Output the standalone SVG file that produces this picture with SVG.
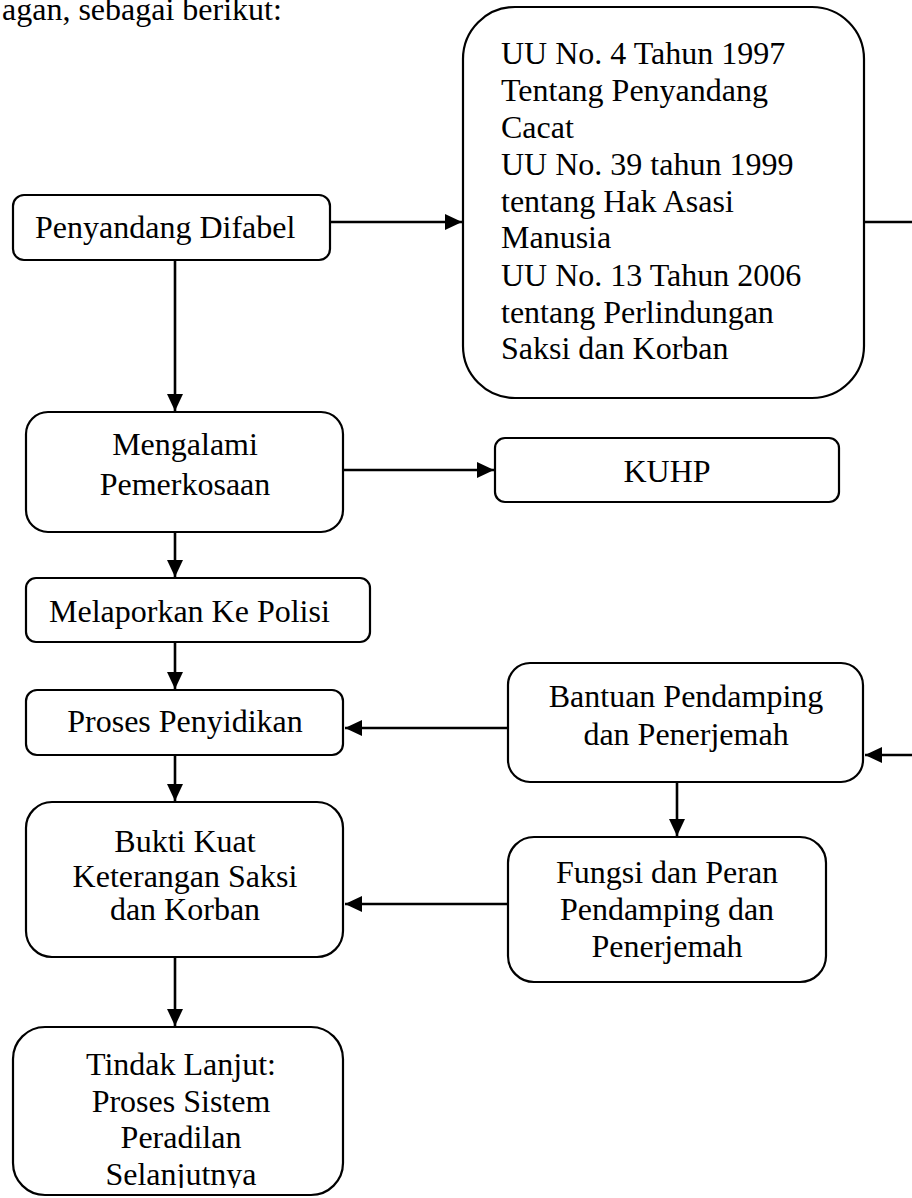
<svg xmlns="http://www.w3.org/2000/svg" width="912" height="1198" viewBox="0 0 912 1198">
<style>
.box{fill:#fff;stroke:#000;stroke-width:2.2}
.t{font-family:"Liberation Serif","Times New Roman",serif;font-size:32px;fill:#000}
.c{text-anchor:middle}
.ln{fill:none;stroke:#000;stroke-width:2.6}
</style>
<defs>
<marker id="ah" markerUnits="userSpaceOnUse" markerWidth="18" markerHeight="16" refX="17" refY="8" orient="auto">
<path d="M0,0 L17,8 L0,16 z" fill="#000"/>
</marker>
<clipPath id="clipT"><rect x="0" y="1020" width="400" height="168"/></clipPath>
</defs>
<rect width="912" height="1198" fill="#fff"/>
<text class="t" x="2" y="20">agan, sebagai berikut:</text>

<g id="connectors">
<path class="ln" d="M330,222 H462" marker-end="url(#ah)"/>
<path class="ln" d="M175,260 V411" marker-end="url(#ah)"/>
<path class="ln" d="M343,470 H494" marker-end="url(#ah)"/>
<path class="ln" d="M175,532 V577" marker-end="url(#ah)"/>
<path class="ln" d="M175,642 V689" marker-end="url(#ah)"/>
<path class="ln" d="M508,728 H345" marker-end="url(#ah)"/>
<path class="ln" d="M175,755 V801" marker-end="url(#ah)"/>
<path class="ln" d="M864,222 H916 V755 H865" marker-end="url(#ah)"/>
<path class="ln" d="M677,782 V836" marker-end="url(#ah)"/>
<path class="ln" d="M508,904 H345" marker-end="url(#ah)"/>
<path class="ln" d="M175,957 V1026" marker-end="url(#ah)"/>
</g>

<g id="penyandang">
<rect class="box" x="13" y="195" width="317" height="65" rx="11"/>
<text class="t" x="35" y="238">Penyandang Difabel</text>
</g>

<g id="uu">
<rect class="box" x="463" y="7" width="401" height="391" rx="52"/>
<text class="t" x="501" y="64">UU No. 4 Tahun 1997</text>
<text class="t" x="501" y="101">Tentang Penyandang</text>
<text class="t" x="501" y="138">Cacat</text>
<text class="t" x="501" y="175">UU No. 39 tahun 1999</text>
<text class="t" x="501" y="212">tentang Hak Asasi</text>
<text class="t" x="501" y="248">Manusia</text>
<text class="t" x="501" y="286">UU No. 13 Tahun 2006</text>
<text class="t" x="501" y="323">tentang Perlindungan</text>
<text class="t" x="501" y="359">Saksi dan Korban</text>
</g>

<g id="mengalami">
<rect class="box" x="26" y="412" width="317" height="120" rx="22"/>
<text class="t c" x="185" y="455">Mengalami</text>
<text class="t c" x="185" y="495">Pemerkosaan</text>
</g>

<g id="kuhp">
<rect class="box" x="495" y="438" width="344" height="64" rx="10"/>
<text class="t c" x="667" y="482">KUHP</text>
</g>

<g id="melaporkan">
<rect class="box" x="26" y="578" width="344" height="64" rx="10"/>
<text class="t" x="49" y="622">Melaporkan Ke Polisi</text>
</g>

<g id="proses">
<rect class="box" x="26" y="690" width="317" height="65" rx="11"/>
<text class="t c" x="185" y="732">Proses Penyidikan</text>
</g>

<g id="bantuan">
<rect class="box" x="508" y="663" width="355" height="119" rx="22"/>
<text class="t c" x="686" y="707">Bantuan Pendamping</text>
<text class="t c" x="686" y="745">dan Penerjemah</text>
</g>

<g id="bukti">
<rect class="box" x="26" y="802" width="317" height="155" rx="26"/>
<text class="t c" x="185" y="852">Bukti Kuat</text>
<text class="t c" x="185" y="887">Keterangan Saksi</text>
<text class="t c" x="185" y="920">dan Korban</text>
</g>

<g id="fungsi">
<rect class="box" x="508" y="837" width="318" height="145" rx="26"/>
<text class="t c" x="667" y="883">Fungsi dan Peran</text>
<text class="t c" x="667" y="920">Pendamping dan</text>
<text class="t c" x="667" y="957">Penerjemah</text>
</g>

<g id="tindak">
<rect class="box" x="13" y="1027" width="330" height="168" rx="32"/>
<text class="t c" x="181" y="1075">Tindak Lanjut:</text>
<text class="t c" x="181" y="1112">Proses Sistem</text>
<text class="t c" x="181" y="1148">Peradilan</text>
<text class="t c" x="181" y="1185" clip-path="url(#clipT)">Selanjutnya</text>
</g>
</svg>
